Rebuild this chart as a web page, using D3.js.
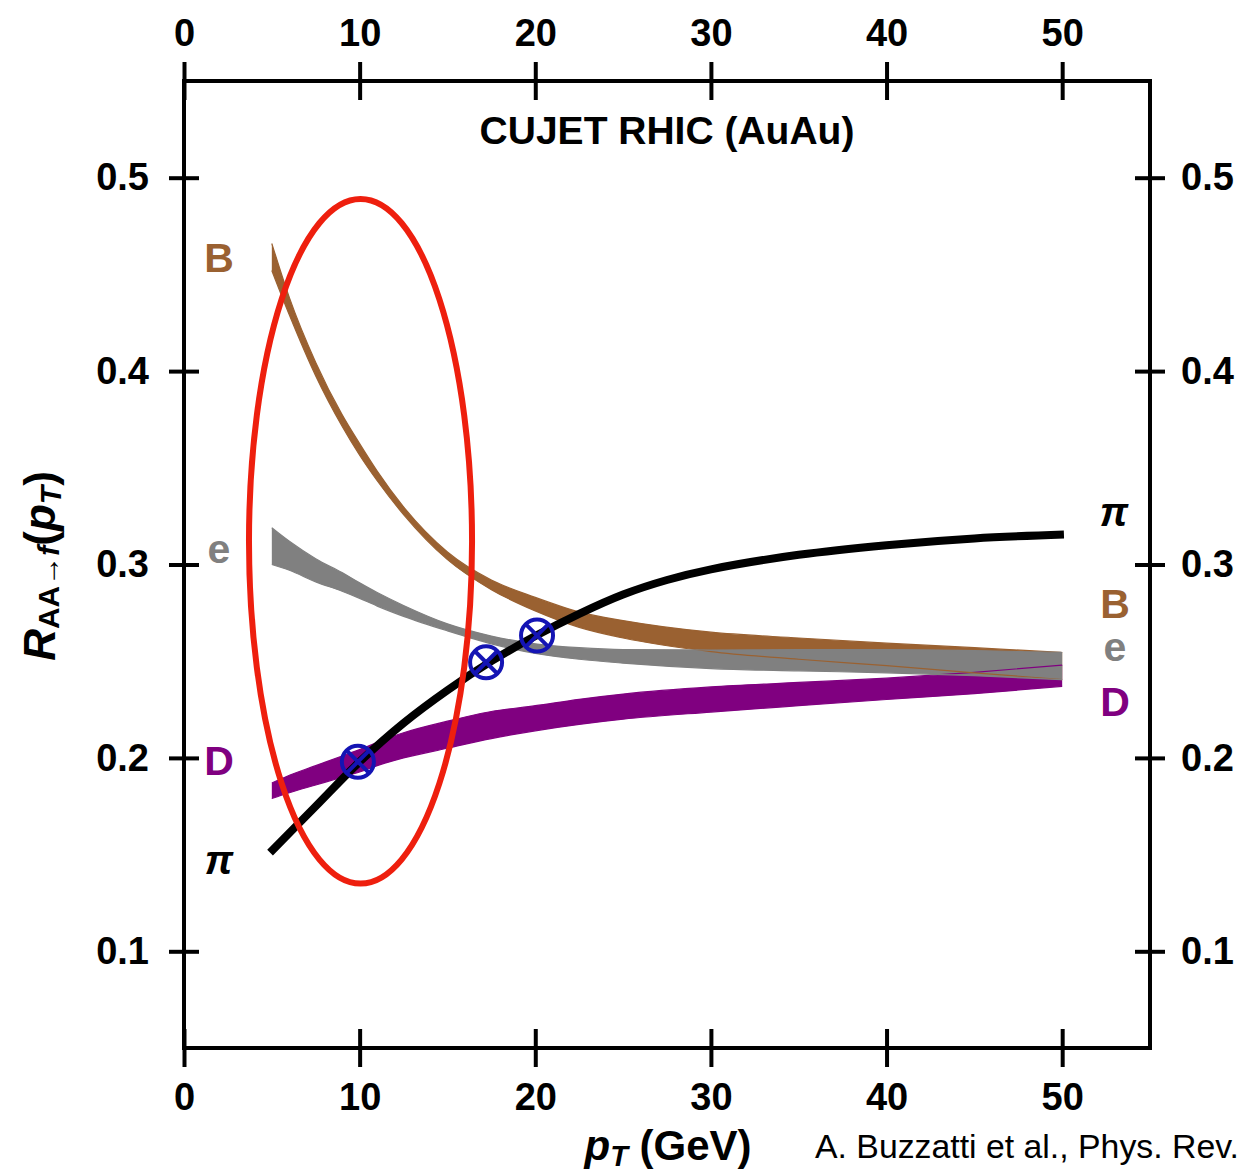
<!DOCTYPE html>
<html>
<head>
<meta charset="utf-8">
<script src="https://cdn.jsdelivr.net/npm/d3@7"></script>
<style>
  html, body { margin: 0; padding: 0; background: #fff; }
  svg { display: block; }
  text { font-family: "Liberation Sans", Arial, sans-serif; }
</style>
</head>
<body>
<svg id="chart" width="1249" height="1174"></svg>
<script>
// pT grid (GeV) shared by the three bands
const ptGrid = [5, 6, 7.5, 9, 10, 11, 12.5, 15, 17.5, 20, 22.5, 25, 30, 35, 40, 45, 50];

// B meson band (lower / upper)
const bLow  = [0.452, 0.429, 0.3975, 0.3715, 0.3565, 0.3433, 0.3258, 0.3025, 0.287, 0.276, 0.2675, 0.262, 0.255, 0.251, 0.2477, 0.244, 0.2405];
const bHigh = [0.466, 0.438, 0.4045, 0.3775, 0.3625, 0.3483, 0.3298, 0.3065, 0.292, 0.283, 0.2755, 0.271, 0.265, 0.262, 0.2593, 0.257, 0.2545];

// non-photonic electron band
const eLow  = [0.300, 0.297, 0.291, 0.2862, 0.2825, 0.2785, 0.2732, 0.2657, 0.259, 0.254, 0.251, 0.249, 0.2462, 0.245, 0.244, 0.2425, 0.2405];
const eHigh = [0.319, 0.312, 0.303, 0.2958, 0.2905, 0.2855, 0.2788, 0.2693, 0.263, 0.259, 0.257, 0.256, 0.2558, 0.256, 0.256, 0.2555, 0.2545];

// D meson band
const dLow  = [0.179, 0.182, 0.186, 0.190, 0.1927, 0.196, 0.200, 0.205, 0.210, 0.214, 0.2173, 0.220, 0.2237, 0.227, 0.2302, 0.2332, 0.237];
const dHigh = [0.187, 0.191, 0.196, 0.201, 0.2043, 0.208, 0.213, 0.219, 0.224, 0.227, 0.2303, 0.233, 0.2367, 0.239, 0.2412, 0.2442, 0.248];

// pion curve
const piX = [4.9, 7.5, 10, 12.5, 15, 17.5, 20, 22.5, 25, 27.5, 30, 35, 40, 45, 50.1];
const piY = [0.151, 0.175, 0.198, 0.218, 0.235, 0.250, 0.263, 0.2745, 0.2845, 0.292, 0.2975, 0.305, 0.310, 0.3135, 0.3155];

// crossing points marked with ⊗
const crossX = [9.9, 17.2, 20.1];
const crossY = [0.198, 0.2494, 0.2633];

// highlighted low-pT region (ellipse bounds in data units)
const ringX = [3.7, 16.4];
const ringY = [0.135, 0.489];

// axis ticks
const xTicks = [0, 10, 20, 30, 40, 50];
const yTicks = [0.1, 0.2, 0.3, 0.4, 0.5];

const colB = "#9a6131", colE = "#808080", colD = "#800080", colPi = "#000000";

const svg = d3.select("#chart");
const L = 184, R = 1150, T = 81, B = 1048;

const x = d3.scaleLinear().domain([0, 55]).range([L, R]);
const y = d3.scaleLinear().domain([0.05, 0.55]).range([B, T]);

const curve = d3.curveMonotoneX;
const bandData = (lo, hi) => ptGrid.map((p, i) => ({ p, lo: lo[i], hi: hi[i] }));
const area = d3.area().x(d => x(d.p)).y0(d => y(d.lo)).y1(d => y(d.hi)).curve(curve);
const edgeLo = d3.line().x(d => x(d.p)).y(d => y(d.lo)).curve(curve);
const edgeHi = d3.line().x(d => x(d.p)).y(d => y(d.hi)).curve(curve);

const bands = [
  { data: bandData(dLow, dHigh), c: colD },
  { data: bandData(bLow, bHigh), c: colB },
  { data: bandData(eLow, eHigh), c: colE }
];

const gBands = svg.append("g");
bands.forEach(b => {
  gBands.append("path").attr("d", area(b.data)).attr("fill", b.c);
});
bands.forEach(b => {
  gBands.append("path").attr("d", edgeLo(b.data)).attr("fill", "none").attr("stroke", b.c).attr("stroke-width", 1.2);
  gBands.append("path").attr("d", edgeHi(b.data)).attr("fill", "none").attr("stroke", b.c).attr("stroke-width", 1.2);
});

// pion curve
const piLine = d3.line().x(d => x(d[0])).y(d => y(d[1])).curve(d3.curveCatmullRom.alpha(0.5));
svg.append("path")
  .attr("d", piLine(piX.map((v, i) => [v, piY[i]])))
  .attr("fill", "none").attr("stroke", colPi).attr("stroke-width", 8);

// crossing markers
const gm = svg.append("g").attr("stroke", "#1414b4").attr("stroke-width", 4).attr("fill", "none");
crossX.forEach((cx, i) => {
  const px = x(cx), py = y(crossY[i]), r = 16, k = r * 0.68;
  gm.append("circle").attr("cx", px).attr("cy", py).attr("r", r);
  gm.append("line").attr("x1", px - k).attr("y1", py - k).attr("x2", px + k).attr("y2", py + k);
  gm.append("line").attr("x1", px - k).attr("y1", py + k).attr("x2", px + k).attr("y2", py - k);
});

// highlight ellipse
svg.append("ellipse")
  .attr("cx", (x(ringX[0]) + x(ringX[1])) / 2)
  .attr("cy", (y(ringY[0]) + y(ringY[1])) / 2)
  .attr("rx", (x(ringX[1]) - x(ringX[0])) / 2)
  .attr("ry", (y(ringY[0]) - y(ringY[1])) / 2)
  .attr("fill", "none").attr("stroke", "#ee1f0e").attr("stroke-width", 6);

// frame and axes
svg.append("rect").attr("x", L).attr("y", T).attr("width", R - L).attr("height", B - T)
  .attr("fill", "none").attr("stroke", "#000").attr("stroke-width", 4);

function styleAxis(g) {
  g.select(".domain").remove();
  g.selectAll(".tick line").attr("stroke", "#000").attr("stroke-width", 4);
  g.selectAll(".tick text").attr("font-size", 38).attr("font-weight", "bold").attr("fill", "#000")
    .attr("font-family", "'Liberation Sans', Arial, sans-serif");
}
const fx = d3.format("d"), fy = d3.format(".1f");

// top
svg.append("g").attr("transform", `translate(0,${T})`)
  .call(d3.axisTop(x).tickValues(xTicks).tickFormat(fx).tickSize(19).tickPadding(16)).call(styleAxis);
svg.append("g").attr("transform", `translate(0,${T})`)
  .call(d3.axisBottom(x).tickValues(xTicks).tickFormat("").tickSize(19)).call(styleAxis);
// bottom
svg.append("g").attr("transform", `translate(0,${B})`)
  .call(d3.axisBottom(x).tickValues(xTicks).tickFormat(fx).tickSize(19).tickPadding(16)).call(styleAxis);
svg.append("g").attr("transform", `translate(0,${B})`)
  .call(d3.axisTop(x).tickValues(xTicks).tickFormat("").tickSize(19)).call(styleAxis);
// left
svg.append("g").attr("transform", `translate(${L},0)`)
  .call(d3.axisLeft(y).tickValues(yTicks).tickFormat(fy).tickSize(15).tickPadding(20)).call(styleAxis);
svg.append("g").attr("transform", `translate(${L},0)`)
  .call(d3.axisRight(y).tickValues(yTicks).tickFormat("").tickSize(15)).call(styleAxis);
// right
svg.append("g").attr("transform", `translate(${R},0)`)
  .call(d3.axisRight(y).tickValues(yTicks).tickFormat(fy).tickSize(15).tickPadding(16)).call(styleAxis);
svg.append("g").attr("transform", `translate(${R},0)`)
  .call(d3.axisLeft(y).tickValues(yTicks).tickFormat("").tickSize(15)).call(styleAxis);

// title
svg.append("text").attr("x", 667).attr("y", 144).attr("text-anchor", "middle")
  .attr("font-size", 39).attr("font-weight", "bold").text("CUJET RHIC (AuAu)");

// curve labels
const labels = [
  { t: "B", c: colB, x: 219, y: 257 },
  { t: "e", c: colE, x: 219, y: 548 },
  { t: "D", c: colD, x: 219, y: 760 },
  { t: "π", c: colPi, x: 219, y: 860, it: true },
  { t: "π", c: colPi, x: 1114, y: 512, it: true },
  { t: "B", c: colB, x: 1115, y: 603 },
  { t: "e", c: colE, x: 1115, y: 646 },
  { t: "D", c: colD, x: 1115, y: 701 }
];
labels.forEach(l => {
  svg.append("text").attr("x", l.x).attr("y", l.y).attr("dy", "0.36em")
    .attr("text-anchor", "middle").attr("font-size", l.it ? 40 : 41).attr("font-weight", "bold")
    .attr("font-style", l.it ? "italic" : "normal")
    .attr("font-family", l.it ? "'Liberation Serif', serif" : "'Liberation Sans', Arial, sans-serif")
    .attr("fill", l.c).text(l.t);
});

// y-axis label
const yl = svg.append("text").attr("transform", "translate(55,566) rotate(-90)")
  .attr("text-anchor", "middle").attr("font-size", 44).attr("font-weight", "bold");
yl.append("tspan").attr("font-style", "italic").text("R");
yl.append("tspan").attr("font-size", 30).attr("dy", 4).text("AA→");
yl.append("tspan").attr("font-size", 30).attr("font-style", "italic").text("f");
yl.append("tspan").attr("dy", -4).text("(");
yl.append("tspan").attr("font-style", "italic").text("p");
yl.append("tspan").attr("font-size", 30).attr("font-style", "italic").attr("dy", 6).text("T");
yl.append("tspan").attr("dy", -6).text(")");

// x-axis label
const xl = svg.append("text").attr("x", 668).attr("y", 1160).attr("text-anchor", "middle")
  .attr("font-size", 42).attr("font-weight", "bold");
xl.append("tspan").attr("font-style", "italic").text("p");
xl.append("tspan").attr("font-size", 29).attr("font-style", "italic").attr("dy", 6).text("T");
xl.append("tspan").attr("dy", -6).text(" (GeV)");

// reference
svg.append("text").attr("x", 815).attr("y", 1158)
  .attr("font-family", "'Liberation Serif', 'DejaVu Serif', serif").attr("font-size", 34)
  .attr("textLength", 424).attr("lengthAdjust", "spacingAndGlyphs")
  .text("A. Buzzatti et al., Phys. Rev.");
</script>
</body>
</html>
